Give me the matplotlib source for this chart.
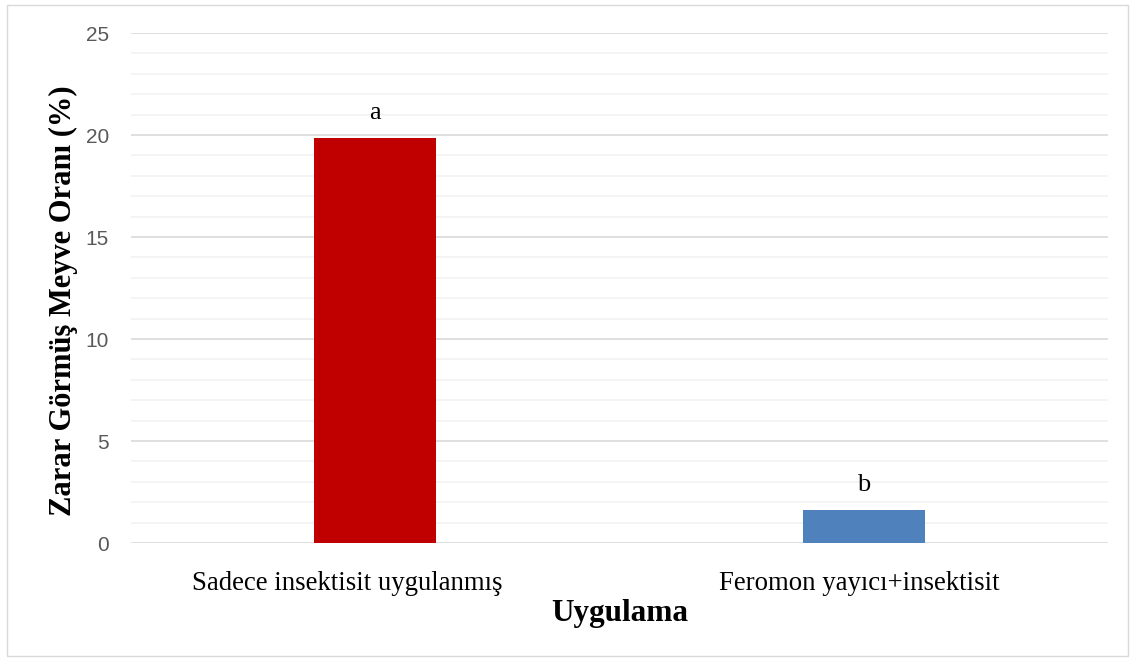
import matplotlib.pyplot as plt
import matplotlib.transforms as mtransforms
from matplotlib.patches import Rectangle
from matplotlib.ticker import MultipleLocator

categories = ['Sadece insektisit uygulanmış', 'Feromon yayıcı+insektisit']
values = [19.85, 1.62]
letters = ['a', 'b']
colors = ['#C00000', '#4F81BD']

fig = plt.figure(figsize=(11.36, 6.61), dpi=100)
ax = fig.add_axes([0.1153, 0.1785, 0.86, 0.7715])

x = range(len(categories))
ax.bar(x, values, width=0.25, color=colors, zorder=3)
for i, (v, t) in enumerate(zip(values, letters)):
    ax.text(i, v + 0.7, t, ha='center', va='bottom',
            fontsize=19, family='Liberation Serif', color='black')

ax.set_xlim(-0.5, 1.5)
ax.set_ylim(0, 25)
ax.yaxis.set_major_locator(MultipleLocator(5))
ax.yaxis.set_minor_locator(MultipleLocator(1))
ax.grid(which='major', axis='y', color='#d9d9d9', linewidth=1.2, zorder=0)
ax.grid(which='minor', axis='y', color='#f2f2f2', linewidth=1.2, zorder=0)
ax.tick_params(axis='both', which='both', length=0)
ax.tick_params(axis='y', labelsize=15, labelcolor='#595959', pad=16)
ax.tick_params(axis='x', pad=20)
for lab in ax.get_yticklabels():
    lab.set_family('Liberation Sans')

ax.set_xticks(list(x))
ax.set_xticklabels(categories, fontsize=19.3, family='Liberation Serif')
# category labels sit slightly left of the bars, like in the original
shifts = [-28, -4]
for lab, dx in zip(ax.get_xticklabels(), shifts):
    lab.set_transform(lab.get_transform() +
                      mtransforms.ScaledTranslation(dx / 100, 0, fig.dpi_scale_trans))
for s in ax.spines.values():
    s.set_visible(False)

ax.set_xlabel('Uygulama', fontsize=22.5, fontweight='bold',
              family='Liberation Serif', labelpad=2)
ax.set_ylabel('Zarar Görmüş Meyve Oranı (%)', fontsize=22, fontweight='bold',
              family='Liberation Serif')
ax.yaxis.set_label_coords(-0.054, 0.476)

fig.patches.append(Rectangle((7 / 1136, 5 / 661), 1121 / 1136, 651 / 661,
                             transform=fig.transFigure, fill=False,
                             edgecolor='#d9d9d9', linewidth=1))

fig.savefig('out.png', dpi=100)
